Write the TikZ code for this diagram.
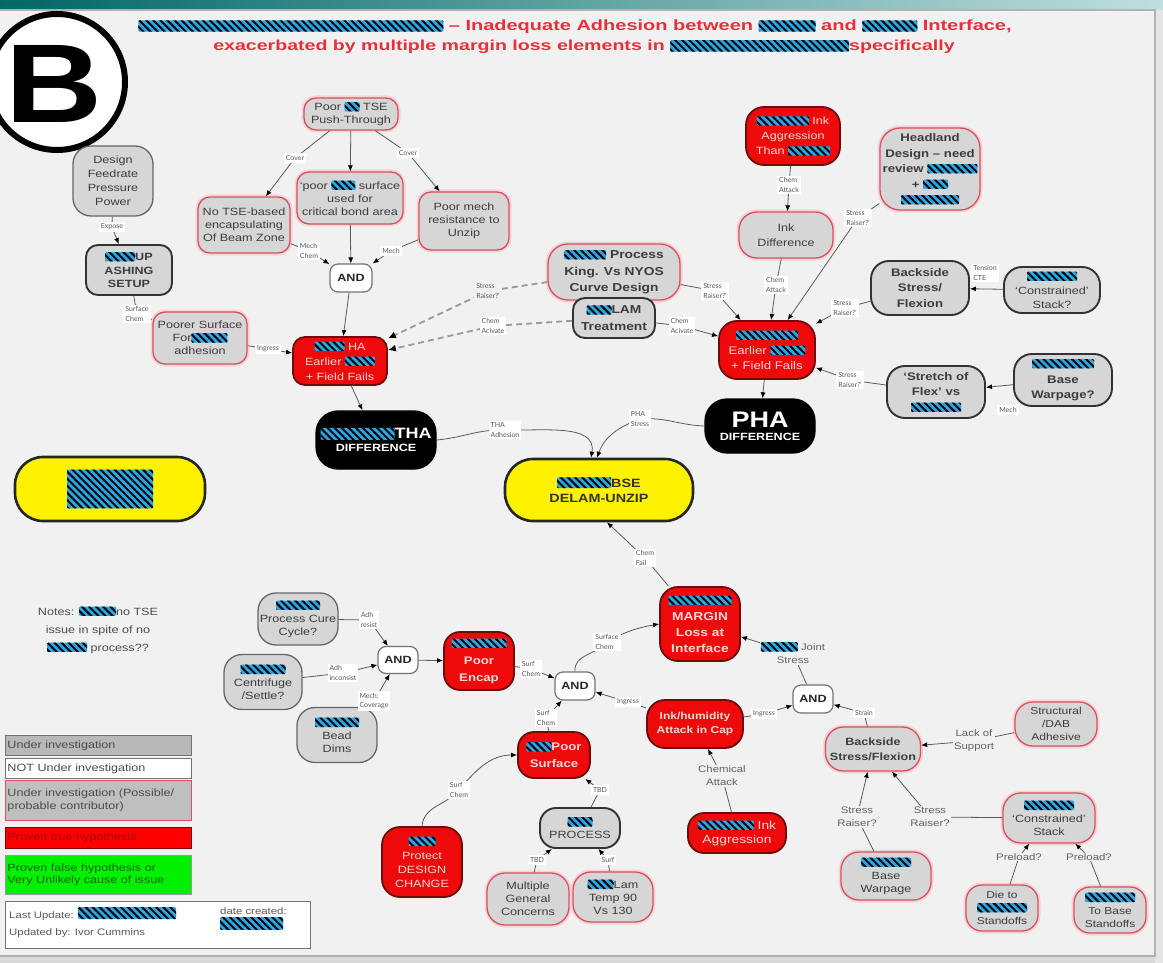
\documentclass[tikz,border=0pt]{standalone}
\usepackage{fontspec}
\setmainfont{Liberation Sans}[FakeStretch=1.2]
\newfontfamily\titfont{Liberation Sans}[FakeStretch=1.35]
\newfontfamily\lblfont{Lato}
\usetikzlibrary{arrows.meta,patterns.meta}
\definecolor{bgc}{HTML}{F1F1F1}
\definecolor{ndgray}{HTML}{D6D6D6}
\definecolor{txtgray}{HTML}{3C3C3C}
\definecolor{pinkb}{HTML}{D9505E}
\definecolor{rednd}{HTML}{EE0A0A}
\definecolor{darkred}{HTML}{6E0A0A}
\definecolor{redtxt}{HTML}{FFD8D8}
\definecolor{edgec}{HTML}{5A5A5A}
\definecolor{rdblue}{HTML}{29A8E8}
\definecolor{titred}{HTML}{E8303A}
\definecolor{lgreen}{HTML}{00F000}
\newcommand\rd[2][8.5]{\tikz[x=1pt,y=1pt,baseline=0pt]{\fill[rdblue,rounded corners=1pt] (0,-0.8) rectangle (#2,#1);\fill[pattern={Lines[angle=-45,distance=5pt,line width=2pt]},pattern color=black,rounded corners=1pt] (0,-0.8) rectangle (#2,#1);}}
\tikzset{
  nd/.style={rounded corners=12pt, align=center, inner sep=1.5pt, line width=1.3pt, font=\fontsize{10.5}{13}\selectfont},
  gnode/.style={nd, fill=ndgray, draw=black!60, text=txtgray},
  gdark/.style={nd, fill=ndgray, draw=black!80, line width=1.9pt, text=txtgray},
  pnode/.style={nd, fill=ndgray, draw=pinkb, text=txtgray, preaction={draw=pinkb!25, line width=5pt}},
  rnode/.style={nd, fill=rednd, draw=darkred, text=redtxt, line width=1.8pt, font=\fontsize{11}{15}\selectfont},
  bnode/.style={nd, rounded corners=22pt, fill=black, draw=black, text=white},
  ynode/.style={nd, rounded corners=28pt, fill=yellow, draw=black!85, line width=2.6pt, text=black!80},
  andn/.style={nd, rounded corners=8pt, fill=white, draw=black!55, line width=1.2pt, font=\bfseries\fontsize{10.5}{11}\selectfont, text=black!85},
  bld/.style={font=\bfseries\fontsize{11}{15.5}\selectfont},
  sz/.style 2 args={minimum width=#1pt, minimum height=#2pt},
  conn/.style={draw=edgec, line width=0.8pt, -{Latex[length=6pt,width=5pt,color=black]}},
  dconn/.style={draw=black!40, line width=1.8pt, dash pattern=on 6pt off 4pt, -{Latex[length=8pt,width=7pt,color=black]}},
  lbl/.style={fill=white, text=black!65, inner sep=2pt, align=left, font=\lblfont\fontsize{7}{9.5}\selectfont},
  lblb/.style={fill=bgc, text=black!62, inner sep=1pt, align=center, font=\fontsize{9.5}{13}\selectfont},
  leg/.style={draw=black!55, line width=1pt, align=left, anchor=north west, inner sep=2pt, text width=182pt, font=\fontsize{10.5}{12.5}\selectfont, text=black!70},
}
\begin{document}
\begin{tikzpicture}[x=1pt,y=-1pt]
\useasboundingbox (0,0) rectangle (1163,963);
% frame
\fill[white] (0,0) rectangle (1163,963);
\shade[left color=teal!80!black, right color=teal!25!white] (0,0) rectangle (1163,10);
\fill[black!15] (0,956) rectangle (1163,963);
\fill[black!10] (1155,10) rectangle (1163,963);
\draw[fill=bgc, draw=black!30, line width=1.2pt] (-3,10) rectangle (1155,956);

% big B
\node[circle, draw=black, fill=white, line width=6pt, minimum size=136pt, inner sep=0pt] (bcirc) at (57,82) {};
\node[font=\bfseries\fontsize{112}{112}\selectfont, text=black] (bletter) at (54,84) {B};

% title
\node[font=\titfont\bfseries\fontsize{14.8}{16}\selectfont, text=titred] (title1) at (575,27) {\rd[10.5]{305} – Inadequate Adhesion between \rd[10.5]{57} and \rd[10.5]{55} Interface,};
\node[font=\titfont\bfseries\fontsize{14.5}{16}\selectfont, text=titred] (title2) at (584,47) {exacerbated by multiple margin loss elements in \rd[10.5]{179}specifically};

% ---------- nodes ----------
\node[gnode, sz={80}{70}, rounded corners=18pt, font=\fontsize{10.5}{14}\selectfont] (design) at (113,181) {Design\\Feedrate\\Pressure\\Power};
\node[gdark, sz={86}{50}, font=\bfseries\fontsize{10.5}{13.5}\selectfont] (ashing) at (129,270) {\rd{30}UP\\ASHING\\SETUP};
\node[pnode, sz={94}{52}] (poorer) at (200,338) {Poorer Surface\\For\rd{36}\\adhesion};
\node[pnode, sz={94}{32}] (tse) at (351,114) {Poor \rd{15} TSE\\Push-Through};
\node[pnode, sz={92}{56}] (notse) at (244,225) {No TSE-based\\encapsulating\\Of Beam Zone};
\node[pnode, sz={106}{52}] (psurf) at (350,198) {‘poor \rd{24} surface\\used for\\critical bond area};
\node[pnode, sz={90}{58}] (pmech) at (464,221) {Poor mech\\resistance to\\Unzip};
\node[andn, sz={42}{28}] (and1) at (351,278) {AND};
\node[rnode, sz={94}{48}, font=\fontsize{10.5}{15}\selectfont] (redHA) at (340,361) {\rd{30} HA\\Earlier \rd{30}\\+ Field Fails};
\node[pnode, sz={132}{56}, rounded corners=20pt, font=\bfseries\fontsize{11.5}{16.5}\selectfont] (king) at (614,272) {\rd{42} Process\\King. Vs NYOS\\Curve Design};
\node[gdark, sz={82}{40}, font=\bfseries\fontsize{11.5}{16.5}\selectfont] (lam) at (614,318) {\rd{25}LAM\\Treatment};
\node[rnode, sz={94}{58}, rounded corners=18pt, font=\fontsize{10.5}{15}\selectfont] (agg) at (793,136) {\rd{52} Ink\\Aggression\\Than \rd{42}};
\node[pnode, sz={94}{46}, rounded corners=18pt, font=\fontsize{10.5}{15}\selectfont] (inkdiff) at (786,235) {Ink\\Difference};
\node[pnode, sz={100}{82}, rounded corners=20pt, font=\bfseries\fontsize{11}{15.5}\selectfont] (headland) at (930,169) {Headland\\Design – need\\review \rd{50}\\+ \rd{25}\\\rd{58}};
\node[rnode, sz={96}{58}, rounded corners=18pt] (redR) at (767,350) {\rd{62}\\Earlier \rd{35}\\+ Field Fails};
\node[gdark, sz={98}{54}, rounded corners=18pt, bld] (backR) at (920,288) {Backside\\Stress/\\Flexion};
\node[gdark, sz={96}{46}, rounded corners=18pt, font=\fontsize{10.5}{14}\selectfont] (constrR) at (1052,290) {\rd{50}\\‘Constrained’\\Stack?};
\node[gdark, sz={98}{52}, rounded corners=18pt, bld] (stretch) at (936,392) {‘Stretch of\\Flex’ vs\\\rd{50}};
\node[gdark, sz={98}{52}, rounded corners=18pt, bld] (basewq) at (1063,380) {\rd{62}\\Base\\Warpage?};
\node[bnode, sz={120}{58}] (tha) at (376,440) {{\bfseries\fontsize{15}{17}\selectfont\rd[11]{74}THA}\\{\bfseries\fontsize{10.5}{13}\selectfont DIFFERENCE}};
\node[bnode, sz={110}{54}] (pha) at (760,426) {{\bfseries\fontsize{22.5}{24}\selectfont PHA}\\{\bfseries\fontsize{10.5}{13}\selectfont DIFFERENCE}};
\node[ynode, sz={188}{62}, font=\bfseries\fontsize{12}{15}\selectfont] (bse) at (599,490) {\rd[10]{54}BSE\\DELAM-UNZIP};
\node[ynode, sz={190}{64}] (yleft) at (110,489) {\rd[38]{86}};
\node[rnode, sz={80}{74}, rounded corners=18pt, font=\bfseries\fontsize{11.5}{16}\selectfont] (margin) at (700,624) {\rd{63}\\MARGIN\\Loss at\\Interface};
\node[gnode, sz={80}{52}, rounded corners=18pt] (pcure) at (298,619) {\rd{44}\\Process Cure\\Cycle?};
\node[gnode, sz={78}{55}, rounded corners=18pt] (centr) at (263,682) {\rd{45}\\Centrifuge\\/Settle?};
\node[gnode, sz={80}{55}, rounded corners=18pt] (bead) at (337,735) {\rd{44}\\Bead\\Dims};
\node[andn, sz={40}{27}] (and2) at (398,660) {AND};
\node[rnode, sz={70}{58}, rounded corners=16pt, font=\bfseries\fontsize{11}{17}\selectfont] (encap) at (479,661) {\rd{55}\\Poor\\Encap};
\node[andn, sz={40}{28}] (and3) at (575,686) {AND};
\node[rnode, sz={72}{46}, rounded corners=16pt, font=\bfseries\fontsize{11}{17}\selectfont] (psurf2) at (554,755) {\rd{25}Poor\\Surface};
\node[rnode, sz={96}{48}, rounded corners=18pt, font=\bfseries\fontsize{10}{14}\selectfont] (inkhum) at (695,724) {Ink/humidity\\Attack in Cap};
\node[andn, sz={40}{28}] (and4) at (813,699) {AND};
\node[pnode, sz={95}{44}, rounded corners=18pt, font=\bfseries\fontsize{10.5}{15}\selectfont] (back2) at (873,749) {Backside\\Stress/Flexion};
\node[pnode, sz={82}{44}, rounded corners=18pt, font=\fontsize{10}{13}\selectfont] (struct) at (1056,724) {Structural\\/DAB\\Adhesive};
\node[pnode, sz={92}{50}, rounded corners=18pt] (constr2) at (1049,818) {\rd{50}\\‘Constrained’\\Stack};
\node[pnode, sz={90}{48}, rounded corners=18pt] (base2) at (886,876) {\rd{50}\\Base\\Warpage};
\node[pnode, sz={72}{46}, rounded corners=16pt, font=\fontsize{10}{13}\selectfont] (die) at (1002,908) {Die to\\\rd{50}\\Standoffs};
\node[pnode, sz={72}{46}, rounded corners=16pt, font=\fontsize{10}{13}\selectfont] (tobase) at (1110,910) {\rd{50}\\To Base\\Standoffs};
\node[rnode, sz={98}{40}, rounded corners=16pt, font=\fontsize{11.5}{14}\selectfont] (inkagg) at (737,833) {\rd{56} Ink\\Aggression};
\node[rnode, sz={80}{70}, rounded corners=18pt, font=\fontsize{10.5}{14}\selectfont] (protect) at (422,862) {\rd{27}\\Protect\\DESIGN\\CHANGE};
\node[gdark, sz={80}{40}, rounded corners=16pt] (process) at (580,828) {\rd{25}\\PROCESS};
\node[pnode, sz={82}{52}, rounded corners=18pt] (multi) at (528,899) {Multiple\\General\\Concerns};
\node[pnode, sz={80}{50}, rounded corners=18pt] (lamt) at (613,897) {\rd{26}Lam\\Temp 90\\Vs 130};

% notes
\node[align=center, font=\fontsize{10.5}{18}\selectfont, text=black!70] (notes) at (98,630) {Notes: \rd{37}no TSE\\issue in spite of no\\\rd{40} process??};

% legend
\node[leg, fill=black!28, minimum height=20pt] (leg1) at (5,735) {Under investigation};
\node[leg, fill=white, minimum height=20pt] (leg2) at (5,758) {NOT Under investigation};
\node[leg, fill=black!25, draw=pinkb, minimum height=40pt] (leg3) at (5,780) {Under investigation (Possible/\\probable contributor)};
\node[leg, fill=red, draw=darkred, text=red!65!black, minimum height=21pt] (leg4) at (5,827) {Proven true hypothesis};
\node[leg, fill=lgreen, draw=black!40, text=green!40!black, minimum height=39pt] (leg5) at (5,855) {Proven false hypothesis or\\Very Unlikely cause of issue};
\node[leg, fill=white, draw=black!55, text width=301pt, minimum height=47pt, line width=1.4pt] (info) at (5,901) {};
\node[anchor=north west, align=left, font=\fontsize{9.5}{17}\selectfont, text=black!65, inner sep=0pt] (infot) at (9,907) {Last Update: \rd[11]{98}\\Updated by: Ivor Cummins};
\node[anchor=north west, align=left, font=\fontsize{9.5}{15}\selectfont, text=black!65, inner sep=0pt] (infod) at (220,907) {date created:\\\rd[12]{63}};

% ---------- label positions ----------
\coordinate (cExpose) at (112,227);
\coordinate (cSC1) at (137,314);
\coordinate (cCov1) at (295,158);
\coordinate (cCov2) at (408,153);
\coordinate (cMC) at (309,251);
\coordinate (cMech1) at (391,251);
\coordinate (cIng1) at (268,349);
\coordinate (cSR1) at (488,291);
\coordinate (cCA1) at (493,326);
\coordinate (cSR2) at (715,291);
\coordinate (cCA2) at (682,326);
\coordinate (cCAt1) at (789,185);
\coordinate (cCAt2) at (776,285);
\coordinate (cSR3) at (858,218);
\coordinate (cSR4) at (845,308);
\coordinate (cSR5) at (850,380);
\coordinate (cTHA) at (505,430);
\coordinate (cPHA) at (640,419);
\coordinate (cCF) at (645,558);
\coordinate (cAR) at (369,620);
\coordinate (cAI) at (343,673);
\coordinate (cMCov) at (374,701);
\coordinate (cSC2) at (531,669);
\coordinate (cSC3) at (607,642);
\coordinate (cSC4) at (546,718);
\coordinate (cIng2) at (628,702);
\coordinate (cIng3) at (764,714);
\coordinate (cJS) at (793,653);
\coordinate (cStr) at (864,713);
\coordinate (cLoS) at (974,741);
\coordinate (cSR6) at (857,817);
\coordinate (cSR7) at (930,817);
\coordinate (cPL1) at (1019,857);
\coordinate (cPL2) at (1089,857);
\coordinate (cChA) at (722,776);
\coordinate (cSC5) at (459,790);
\coordinate (cTBD1) at (600,790);
\coordinate (cTBD2) at (537,860);
\coordinate (cSurf) at (608,860);

% ---------- connectors ----------
\draw[conn] (design) -- (cExpose) -- (ashing);
\draw[conn] (ashing) -- (cSC1) -- (poorer);
\draw[conn] (tse) -- (cCov1) -- (notse);
\draw[conn] (tse) -- (psurf);
\draw[conn] (tse) -- (cCov2) -- (pmech);
\draw[conn] (notse) -- (cMC) -- (and1);
\draw[conn] (psurf) -- (and1);
\draw[conn] (pmech) -- (cMech1) -- (and1);
\draw[conn] (and1) -- (redHA);
\draw[conn] (poorer) -- (cIng1) -- (redHA);
\draw[dconn] (king) -- (cSR1) -- (redHA);
\draw[dconn] (lam) -- (cCA1) -- (redHA);
\draw[conn] (king) -- (cSR2) -- (redR);
\draw[conn] (lam) -- (cCA2) -- (redR);
\draw[conn] (agg) -- (cCAt1) -- (inkdiff);
\draw[conn] (inkdiff) -- (cCAt2) -- (redR);
\draw[conn] (headland) -- (cSR3) -- (redR);
\draw[conn] (constrR) -- (backR);
\draw[conn] (backR) -- (cSR4) -- (redR);
\draw[conn] (stretch) -- (cSR5) -- (redR);
\draw[conn] (basewq) -- (stretch);
\draw[conn] (redHA) -- (tha);
\draw[conn] (redR) -- (pha);
\draw[conn] (tha.east) to[out=5,in=178] (cTHA) to[out=-2,in=80] ([xshift=-8pt]bse.north);
\draw[conn] (pha.west) to[out=178,in=5] (cPHA) to[out=200,in=70] ([xshift=-2pt]bse.north);
\draw[conn] (margin) -- (cCF) -- ([xshift=8pt]bse.south);
\draw[conn] (pcure) -- (cAR) -- (and2);
\draw[conn] (centr) -- (cAI) -- (and2);
\draw[conn] (bead) -- (cMCov) -- (and2);
\draw[conn] (and2) -- (encap);
\draw[conn] (encap) -- (cSC2) -- (and3);
\draw[conn] (and3.north) to[out=95,in=230] (cSC3) to[out=30,in=190] (margin.west);
\draw[conn] (psurf2) -- (cSC4) -- (and3);
\draw[conn] (inkhum) -- (cIng2) -- (and3);
\draw[conn] (inkhum) -- (cIng3) -- (and4);
\draw[conn] (and4) -- (cJS) -- (margin);
\draw[conn] (back2) -- (cStr) -- (and4);
\draw[conn] (struct) -- (cLoS) -- (back2);
\draw[conn] (base2) -- (cSR6) -- (back2);
\draw[conn] (constr2) -- (cSR7) -- (back2);
\draw[conn] (die) -- (cPL1) -- (constr2);
\draw[conn] (tobase) -- (cPL2) -- (constr2);
\draw[conn] (inkagg) -- (cChA) -- (inkhum);
\draw[conn] (protect.north) to[out=85,in=230] (cSC5) to[out=50,in=180] (psurf2.west);
\draw[conn] (process) -- (cTBD1) -- (psurf2);
\draw[conn] (multi) -- (cTBD2) -- (process);
\draw[conn] (lamt) -- (cSurf) -- (process);

% ---------- labels ----------
\node[lbl] (lExpose) at (cExpose) {Expose};
\node[lbl] (lSC1) at (cSC1) {Surface\\Chem};
\node[lbl] (lCov1) at (cCov1) {Cover};
\node[lbl] (lCov2) at (cCov2) {Cover};
\node[lbl] (lMC) at (cMC) {Mech\\Chem};
\node[lbl] (lMech1) at (cMech1) {Mech};
\node[lbl] (lIng1) at (cIng1) {Ingress};
\node[lbl, fill=bgc] (lSR1) at (cSR1) {Stress\\Raiser?’};
\node[lbl] (lCA1) at (cCA1) {Chem\\Acivate};
\node[lbl] (lSR2) at (cSR2) {Stress\\Raiser?’};
\node[lbl] (lCA2) at (cCA2) {Chem\\Acivate};
\node[lbl] (lCAt1) at (cCAt1) {Chem\\Attack};
\node[lbl] (lCAt2) at (cCAt2) {Chem\\Attack};
\node[lbl] (lSR3) at (cSR3) {Stress\\Raiser?’};
\node[lbl] (lTCTE) at (985,273) {Tension\\CTE};
\node[lbl] (lSR4) at (cSR4) {Stress\\Raiser?’};
\node[lbl] (lSR5) at (cSR5) {Stress\\Raiser?’};
\node[lbl] (lMech2) at (1008,410) {Mech};
\node[lbl] (lTHA) at (cTHA) {THA\\Adhesion};
\node[lbl] (lPHA) at (cPHA) {PHA\\Stress};
\node[lbl] (lCF) at (cCF) {Chem\\Fail};
\node[lbl] (lAR) at (cAR) {Adh\\resist};
\node[lbl] (lAI) at (cAI) {Adh\\inconsist};
\node[lbl] (lMCov) at (cMCov) {Mech:\\Coverage};
\node[lbl] (lSC2) at (cSC2) {Surf\\Chem};
\node[lbl] (lSC3) at (cSC3) {Surface\\Chem};
\node[lbl] (lSC4) at (cSC4) {Surf\\Chem};
\node[lbl] (lIng2) at (cIng2) {Ingress};
\node[lbl] (lIng3) at (cIng3) {Ingress};
\node[lblb] (lJS) at (cJS) {\rd{37} Joint\\Stress};
\node[lbl] (lStr) at (cStr) {Strain};
\node[lblb] (lLoS) at (cLoS) {Lack of\\Support};
\node[lblb] (lSR6) at (cSR6) {Stress\\Raiser?};
\node[lblb] (lSR7) at (cSR7) {Stress\\Raiser?};
\node[lblb] (lPL1) at (cPL1) {Preload?};
\node[lblb] (lPL2) at (cPL2) {Preload?};
\node[lblb] (lChA) at (cChA) {Chemical\\Attack};
\node[lbl] (lSC5) at (cSC5) {Surf\\Chem};
\node[lbl] (lTBD1) at (cTBD1) {TBD};
\node[lbl] (lTBD2) at (cTBD2) {TBD};
\node[lbl] (lSurf) at (cSurf) {Surf};
\end{tikzpicture}
\end{document}
